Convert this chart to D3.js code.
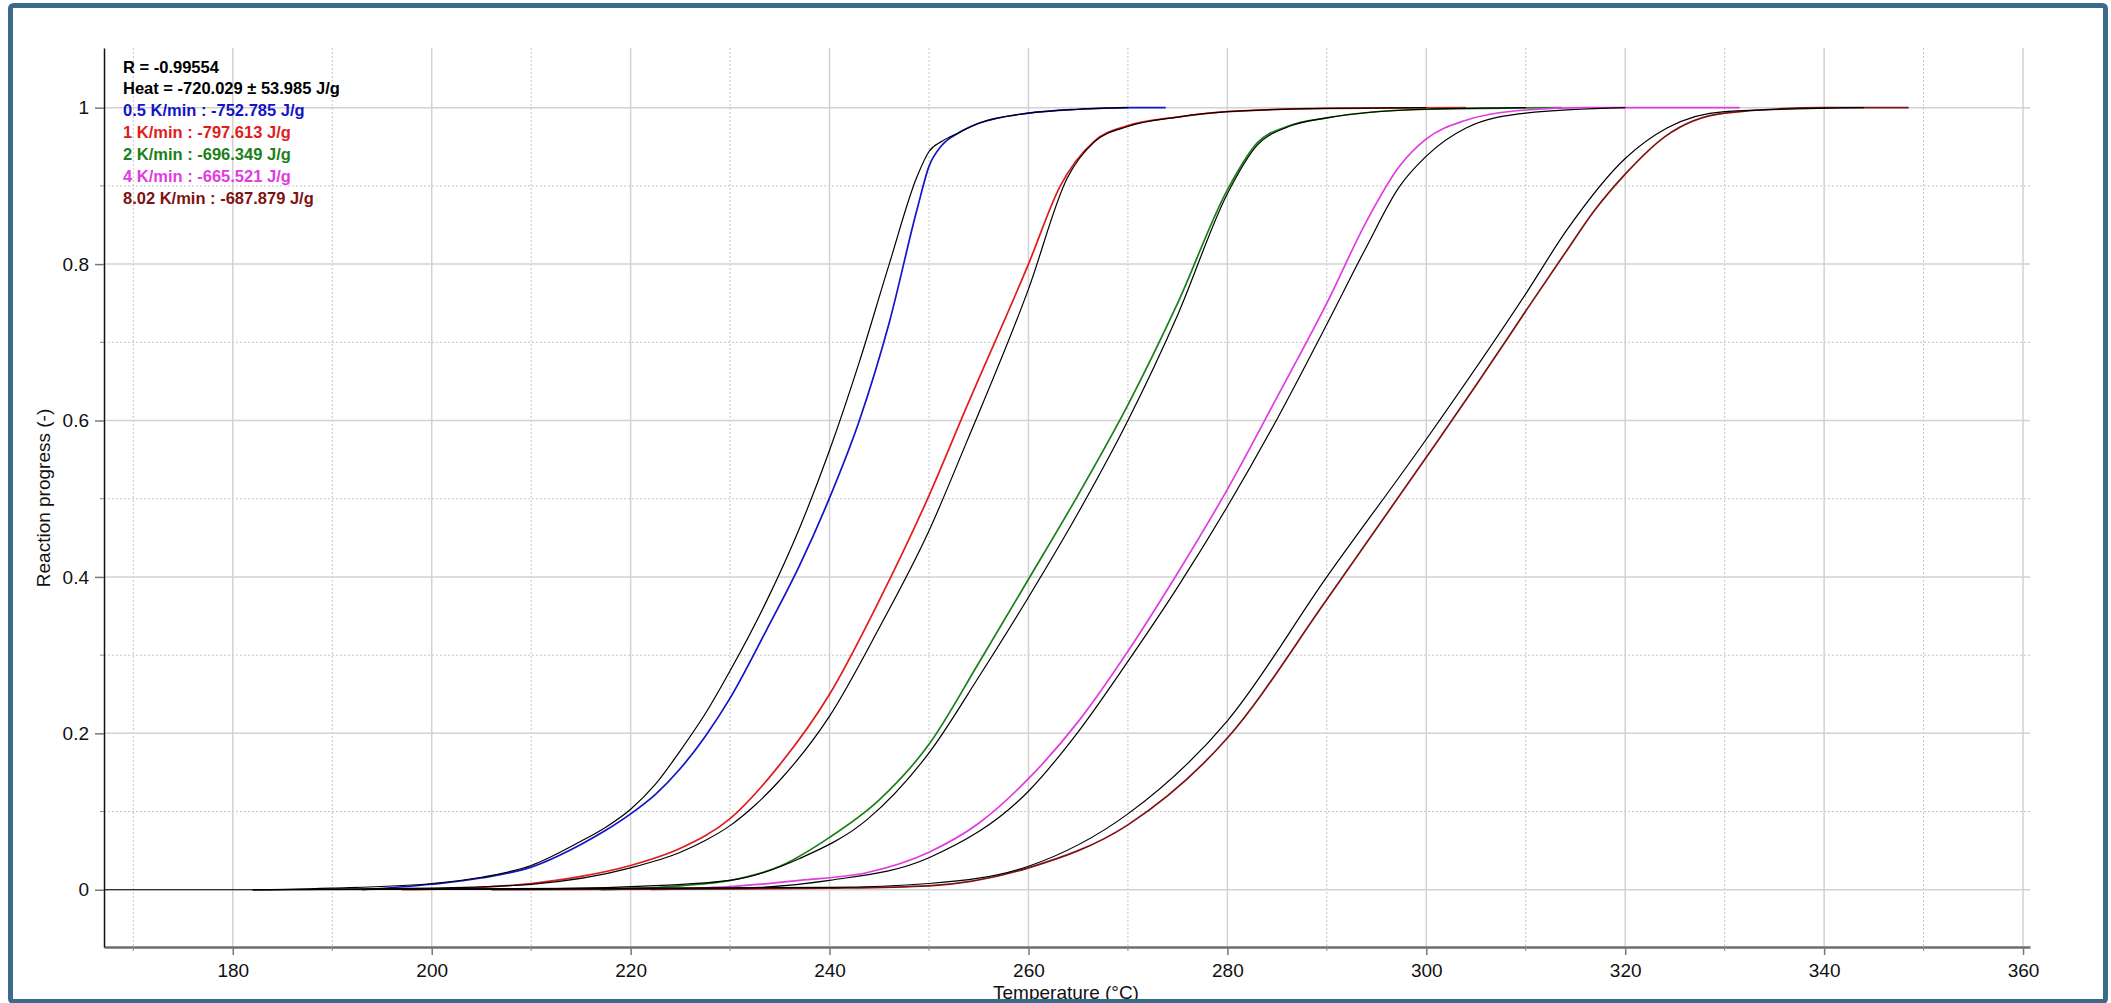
<!DOCTYPE html>
<html lang="en">
<head>
  <meta charset="UTF-8">
  <title>Reaction progress</title>
  <script src="https://d3js.org/d3.v7.min.js"></script>
  <style>
    body { margin: 0; background: #fff; }
    text { font-family: 'Liberation Sans', Arial, sans-serif; }
  </style>
</head>
<body>
<div class="canvas"></div>
<script>
  // measured curves (colored) and model fits (black), temperature in degC
  const t05 = [193, 200, 205, 210, 215, 217.5, 220, 222.5, 225, 227.5, 230, 233.7, 237, 240, 243, 246, 248.8, 250, 251.3, 253, 255, 260, 265, 270, 273.8]
  const y05 = [0, 0.007, 0.015, 0.029, 0.058, 0.076, 0.097, 0.122, 0.155, 0.196, 0.245, 0.333, 0.415, 0.501, 0.6, 0.725, 0.87, 0.925, 0.952, 0.968, 0.98, 0.993, 0.998, 1, 1]
  const fitT05 = [167.1, 182, 190, 200, 205, 210, 215, 217.5, 220, 222.5, 225, 227.5, 230, 233.7, 237, 240, 243, 246, 248.8, 250, 251.3, 253, 255, 260, 265, 270]
  const fitY05 = [0, 0, 0.002, 0.008, 0.016, 0.031, 0.062, 0.08, 0.103, 0.135, 0.178, 0.225, 0.28, 0.37, 0.463, 0.562, 0.675, 0.8, 0.912, 0.944, 0.957, 0.968, 0.98, 0.993, 0.998, 1]

  const t1 = [197, 205, 210, 215, 220, 225, 230, 235, 240, 245, 250, 253.8, 260, 263.2, 266.6, 270, 275, 280, 290, 304]
  const y1 = [0, 0.003, 0.008, 0.017, 0.031, 0.053, 0.091, 0.16, 0.25, 0.37, 0.504, 0.618, 0.8, 0.9, 0.957, 0.977, 0.988, 0.995, 0.999, 1]
  const fitT1 = [182, 200, 210, 220, 225, 227.5, 230, 232.5, 235, 240, 245, 250, 253.8, 260, 263.9, 266.6, 270, 275, 280, 290, 300]
  const fitY1 = [0, 0.002, 0.007, 0.028, 0.048, 0.063, 0.082, 0.108, 0.14, 0.222, 0.335, 0.459, 0.573, 0.768, 0.91, 0.956, 0.976, 0.988, 0.995, 0.999, 1]

  const t2 = [217, 225, 230, 235, 240, 245, 250, 255, 260, 265, 270, 275, 280, 283, 286, 290, 300, 313.6]
  const y2 = [0, 0.005, 0.012, 0.03, 0.067, 0.115, 0.186, 0.29, 0.397, 0.505, 0.62, 0.75, 0.895, 0.955, 0.976, 0.987, 0.998, 1]
  const fitT2 = [182, 210, 220, 230, 237, 243.8, 250, 255, 260, 265, 270, 275, 280, 283, 286, 290, 300, 310]
  const fitY2 = [0, 0.001, 0.004, 0.012, 0.04, 0.09, 0.175, 0.272, 0.374, 0.482, 0.6, 0.735, 0.89, 0.952, 0.975, 0.987, 0.998, 1]

  const t4 = [222, 230, 237, 243.8, 250, 255, 260, 265, 270, 275, 280, 285, 290, 294, 297.3, 300, 304, 310, 316, 331.5]
  const y4 = [0, 0.004, 0.012, 0.022, 0.048, 0.085, 0.142, 0.215, 0.305, 0.405, 0.512, 0.63, 0.75, 0.855, 0.925, 0.96, 0.984, 0.997, 1, 1]
  const fitT4 = [182, 230, 240, 250, 260, 265, 270, 275, 280, 285, 290, 293.9, 297.3, 300, 304, 310, 320]
  const fitY4 = [0, 0.002, 0.012, 0.041, 0.126, 0.202, 0.292, 0.387, 0.49, 0.602, 0.723, 0.82, 0.899, 0.938, 0.974, 0.993, 1]

  const t8 = [206, 230, 240, 250, 260, 270, 280, 290, 300, 305, 310, 314, 317, 320, 324, 330, 340, 348.5]
  const y8 = [0, 0.001, 0.002, 0.005, 0.028, 0.083, 0.194, 0.371, 0.553, 0.645, 0.74, 0.815, 0.87, 0.915, 0.963, 0.993, 1, 1]
  const fitT8 = [182, 240, 250, 260, 270, 280, 290, 300, 310, 314.1, 320, 324.2, 330, 344]
  const fitY8 = [0, 0.003, 0.008, 0.03, 0.097, 0.216, 0.4, 0.576, 0.762, 0.843, 0.935, 0.974, 0.995, 1]

  const headerLines = ['R = -0.99554', 'Heat = -720.029 \u00b1 53.985 J/g']
  const seriesLabels = ['0.5 K/min : -752.785 J/g', '1 K/min : -797.613 J/g', '2 K/min : -696.349 J/g', '4 K/min : -665.521 J/g', '8.02 K/min : -687.879 J/g']

  const xTicks = [180, 200, 220, 240, 260, 280, 300, 320, 340, 360]
  const xMinor = [170, 190, 210, 230, 250, 270, 290, 310, 330, 350]
  const yTicks = [0, 0.2, 0.4, 0.6, 0.8, 1]
  const yMinor = [0.1, 0.3, 0.5, 0.7, 0.9]

  const colors = ['#1414c8', '#e01c1c', '#1a801a', '#e03ce0', '#7e1212']

  const zip = (xs, ys) => xs.map((x, i) => ({ x: x, y: ys[i] }))
  const measured = [zip(t05, y05), zip(t1, y1), zip(t2, y2), zip(t4, y4), zip(t8, y8)]
  const fits = [zip(fitT05, fitY05), zip(fitT1, fitY1), zip(fitT2, fitY2), zip(fitT4, fitY4), zip(fitT8, fitY8)]

  const W = 2111, H = 1003
  const svg = d3.select('.canvas')
    .append('svg')
    .attr('width', W)
    .attr('height', H)

  svg.append('rect').attr('width', W).attr('height', H).attr('fill', '#fff')

  const x = d3.scaleLinear().domain([167.05, 360.7]).range([104, 2030])
  const y = d3.scaleLinear().domain([-0.0732, 1.0763]).range([947, 48])

  // grid
  const grid = svg.append('g')
  grid.selectAll('.vmin').data(xMinor).enter().append('line')
    .attr('x1', d => x(d)).attr('x2', d => x(d)).attr('y1', 48).attr('y2', 947)
    .attr('stroke', '#c4c4c4').attr('stroke-width', 1).attr('stroke-dasharray', '2,2')
  grid.selectAll('.hmin').data(yMinor).enter().append('line')
    .attr('x1', 104).attr('x2', 2030).attr('y1', d => y(d)).attr('y2', d => y(d))
    .attr('stroke', '#c4c4c4').attr('stroke-width', 1).attr('stroke-dasharray', '2,2')
  grid.selectAll('.vmaj').data(xTicks).enter().append('line')
    .attr('x1', d => x(d)).attr('x2', d => x(d)).attr('y1', 48).attr('y2', 947)
    .attr('stroke', '#d2d2d2').attr('stroke-width', 1.5)
  grid.selectAll('.hmaj').data(yTicks).enter().append('line')
    .attr('x1', 104).attr('x2', 2030).attr('y1', d => y(d)).attr('y2', d => y(d))
    .attr('stroke', '#d2d2d2').attr('stroke-width', 1.5)

  // axes
  const xAxis = svg.append('g').attr('transform', 'translate(0,947)')
    .call(d3.axisBottom(x).tickValues(xTicks).tickSize(8).tickSizeOuter(0).tickPadding(9).tickFormat(d3.format('d')))
  xAxis.select('.domain').attr('stroke', '#6e6e6e').attr('stroke-width', 2.5)
  xAxis.selectAll('.tick line').attr('stroke', '#777').attr('stroke-width', 1.5)
  xAxis.append('g').selectAll('line').data(xMinor).enter().append('line')
    .attr('x1', d => x(d)).attr('x2', d => x(d)).attr('y1', 0).attr('y2', 4)
    .attr('stroke', '#888')

  const yAxis = svg.append('g').attr('transform', 'translate(104,0)')
    .call(d3.axisLeft(y).tickValues(yTicks).tickSize(9).tickSizeOuter(0).tickPadding(6).tickFormat(d3.format('~g')))
  yAxis.select('.domain').attr('stroke', '#111').attr('stroke-width', 1.5)
  yAxis.selectAll('.tick line').attr('stroke', '#777').attr('stroke-width', 1.5)
  yAxis.append('g').selectAll('line').data(yMinor).enter().append('line')
    .attr('x1', -4).attr('x2', 0).attr('y1', d => y(d)).attr('y2', d => y(d))
    .attr('stroke', '#888')

  svg.selectAll('.tick text')
    .attr('font-family', "'Liberation Sans', Arial, sans-serif")
    .attr('font-size', 19)
    .attr('fill', '#111')

  svg.append('text')
    .attr('transform', 'translate(50,498) rotate(-90)')
    .attr('text-anchor', 'middle')
    .attr('font-size', 19)
    .attr('fill', '#111')
    .text('Reaction progress (-)')

  svg.append('text')
    .attr('x', 1066).attr('y', 999)
    .attr('text-anchor', 'middle')
    .attr('font-size', 19)
    .attr('fill', '#111')
    .text('Temperature (\u00b0C)')

  // curves
  const line = d3.line()
    .x(d => x(d.x))
    .y(d => y(d.y))
    .curve(d3.curveMonotoneX)

  svg.append('g').selectAll('path')
    .data(measured)
    .enter()
    .append('path')
    .attr('fill', 'none')
    .attr('stroke', (d, i) => colors[i])
    .attr('stroke-width', 1.7)
    .attr('d', line)

  svg.append('g').selectAll('path')
    .data(fits)
    .enter()
    .append('path')
    .attr('fill', 'none')
    .attr('stroke', '#000')
    .attr('stroke-width', 1.2)
    .attr('d', line)

  // legend text block
  const legend = svg.append('g').attr('font-weight', 'bold').attr('font-size', 16.5)
  legend.selectAll('.hdr').data(headerLines).enter().append('text')
    .attr('x', 123).attr('y', (d, i) => 72.5 + i * 21.9)
    .attr('fill', '#000')
    .text(d => d)
  legend.selectAll('.ser').data(seriesLabels).enter().append('text')
    .attr('x', 123).attr('y', (d, i) => 72.5 + (i + 2) * 21.9)
    .attr('fill', (d, i) => colors[i])
    .text(d => d)

  // window frame
  svg.append('rect')
    .attr('x', 10.5).attr('y', 5.5)
    .attr('width', 2095).attr('height', 996)
    .attr('rx', 3)
    .attr('fill', 'none')
    .attr('stroke', '#3b6a8b')
    .attr('stroke-width', 5)
</script>
</body>
</html>
